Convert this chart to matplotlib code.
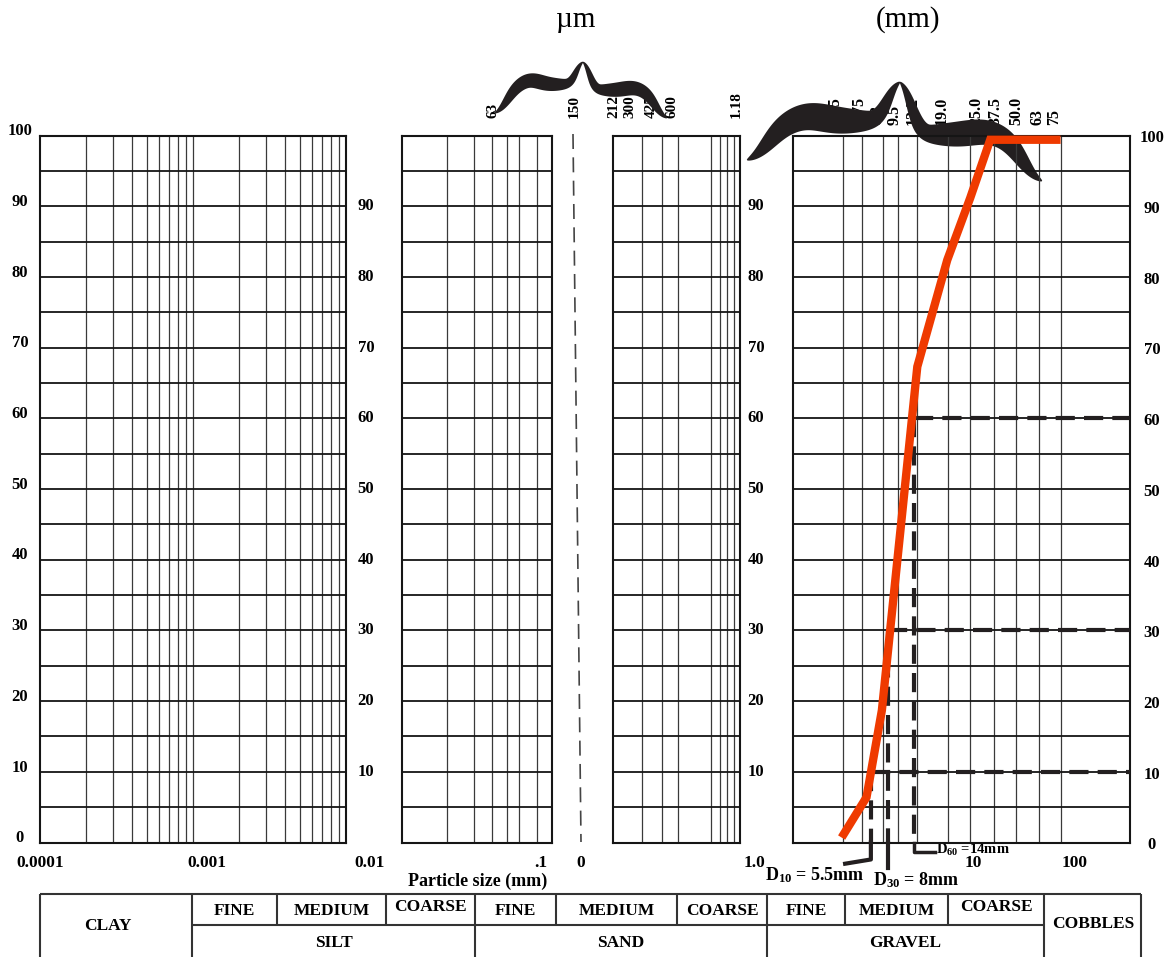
"""
Curva granulométrica (% passante x tamanho da partícula) com as faixas
de argila, silte, areia, pedregulho e pedras, e as marcas D10, D30 e D60.
"""

import numpy as np
import matplotlib.pyplot as plt
from matplotlib.patches import Polygon
from matplotlib.ticker import NullLocator
from matplotlib.transforms import blended_transform_factory

plt.rcParams["font.family"] = ["Liberation Serif", "DejaVu Serif"]
plt.rcParams["font.weight"] = "bold"
plt.rcParams["mathtext.fontset"] = "custom"
plt.rcParams["mathtext.rm"] = "Liberation Serif:bold"
plt.rcParams["mathtext.it"] = "Liberation Serif:bold"
plt.rcParams["mathtext.bf"] = "Liberation Serif:bold"

# ---- dados -------------------------------------------------------------
pct_grid = list(range(5, 100, 5))
left_pct_labels = list(range(0, 101, 10))
inner_pct_labels = list(range(10, 100, 10))

p1_lim = (0.0001, 0.01)
p1_grid = [0.0002, 0.0003, 0.0004, 0.0005, 0.0006, 0.0007, 0.0008, 0.0009,
           0.001, 0.002, 0.003, 0.004, 0.005, 0.006, 0.007, 0.008, 0.009]
p2_lim = (0.01, 0.1)
p2_grid = [0.02, 0.03, 0.04, 0.05, 0.06, 0.08]
p3_lim = (0.2, 1.2)
p3_grid = [0.3, 0.4, 0.5, 0.8, 0.9, 1.0, 1.1]
p4_lim = (1.0, 1600.0)
p4_grid = [3, 4.5, 7.2, 10, 15, 30, 48, 82, 133, 220, 350]

# curva do material (mm, % passante)
sizes_mm = [2.9, 5.0, 7.0, 15.2, 29.3, 48.5, 75.0, 350.0]
passing = [0.7, 6.4, 18.7, 67.3, 82.4, 91.2, 99.4, 99.4]

d_values = [5.5, 8.0, 14.0]
d_levels = [10, 30, 60]
d_texts = ["D$_{10}$ = 5.5mm", "D$_{30}$ = 8mm", "D$_{60}$ =14mm"]

um_sieves = ["63", "150", "212", "300", "425", "600", "1.18"]
mm_sieves = ["3.35", "4.75", "6.3", "9.5", "13.2", "19.0", "25.0", "37.5",
             "50.0", "63", "75"]
size_labels = ["0.0001", "0.001", "0.01", ".1", "0", "1.0", "10", "100"]

sub_classes = ["FINE", "MEDIUM", "COARSE"] * 3
main_classes = ["SILT", "SAND", "GRAVEL"]

# ---- layout (pixels da imagem) ------------------------------------------
W, H = 1170, 957
TOP, BOT = 135.5, 842.5
panel_x = [(40, 346), (402, 552), (613, 740), (793, 1130)]
um_x = [493, 574, 614, 630, 651, 672, 736]
mm_x = [835, 860, 878, 895, 913, 942, 976, 995, 1016, 1037, 1054]
size_label_x = [40, 207, 370, 541, 581, 754, 973, 1075]
table_cols = [40, 192, 277, 386, 475, 556, 677, 767, 845, 948, 1044, 1141]
main_cols = [40, 192, 475, 767, 1044, 1141]
T_TOP, T_MID, T_BOT = 894, 925, 962

INK = "#231f20"
GRID = "#3a3a3a"
ORANGE = "#ef3a00"

fig = plt.figure(figsize=(W / 100, H / 100), dpi=100)

# eixo de sobreposição em pixels (desenhado primeiro, embaixo dos painéis)
ov = fig.add_axes([0, 0, 1, 1])
ov.set_xlim(0, W)
ov.set_ylim(H, 0)
ov.axis("off")


def add_panel(x0, x1, lim, grid):
    ax = fig.add_axes([x0 / W, 1 - BOT / H, (x1 - x0) / W, (BOT - TOP) / H])
    ax.set_facecolor("none")
    ax.set_xscale("log")
    for g in grid:
        ax.axvline(g, color=GRID, lw=0.9, zorder=1)
    for p in pct_grid:
        ax.axhline(p, color="#151515", lw=1.3, zorder=1.5)
    ax.set_xlim(lim)
    ax.set_ylim(0, 100)
    for axis in (ax.xaxis, ax.yaxis):
        axis.set_major_locator(NullLocator())
        axis.set_minor_locator(NullLocator())
    for s in ax.spines.values():
        s.set_linewidth(1.5)
        s.set_color("#151515")
    return ax


ax1 = add_panel(*panel_x[0], p1_lim, p1_grid)
ax2 = add_panel(*panel_x[1], p2_lim, p2_grid)
ax3 = add_panel(*panel_x[2], p3_lim, p3_grid)
ax4 = add_panel(*panel_x[3], p4_lim, p4_grid)

# curva granulométrica
ax4.plot(sizes_mm, passing, color=ORANGE, lw=6, solid_capstyle="butt",
         solid_joinstyle="miter", zorder=5, clip_on=False)

# linhas de D10, D30, D60
dash = (0, (4.6, 2.2))
for d, lev in zip(d_values, d_levels):
    ax4.plot([d, p4_lim[1]], [lev, lev], color=INK, lw=3, ls=dash, zorder=4)
    ax4.plot([d, d], [lev, 0], color=INK, lw=3, ls=dash, zorder=4)
# chamadas abaixo do eixo
ax4.plot([5.5, 5.5, 3.13], [0, -2.4, -3.0], color=INK, lw=3, clip_on=False, zorder=4)
ax4.plot([8.0, 8.0], [0, -3.6], color=INK, lw=3, clip_on=False, zorder=4)
ax4.plot([14.0, 14.0, 22.5], [0, -1.4, -1.4], color=INK, lw=2.5, clip_on=False, zorder=4)

ov.text(765, 875, d_texts[0], fontsize=13, ha="left", va="center")
ov.text(873, 880, d_texts[1], fontsize=13, ha="left", va="center")
ov.text(936, 850, d_texts[2], fontsize=10.5, ha="left", va="center")

# rótulos de % passante
for ax, xp, labels, dy in [(ax1, 20, left_pct_labels, 0.6),
                           (ax1, 366, inner_pct_labels, 0),
                           (ax3, 756, inner_pct_labels, 0),
                           (ax4, 1152, left_pct_labels, -0.4)]:
    tr = blended_transform_factory(ov.transData, ax.transData)
    for p in labels:
        ov.text(xp, p + dy, str(p), transform=tr, fontsize=12,
                ha="center", va="center")

# rótulos de tamanho embaixo
for x, s in zip(size_label_x, size_labels):
    ov.text(x, 863, s, fontsize=12.5, ha="center", va="center")
ov.text(478, 881, "Particle size (mm)", fontsize=13, ha="center", va="center")

# peneiras (rotacionadas)
for x, s in zip(um_x, um_sieves):
    ov.text(x, 118, s, rotation=90, fontsize=11, ha="center", va="bottom", zorder=1)
for x, s in zip(mm_x, mm_sieves):
    ov.text(x, 125, s, rotation=90, fontsize=11.5, ha="center", va="bottom", zorder=1)

ov.text(576, 20, "\u00b5m", fontsize=21, fontweight="normal", ha="center", va="center")
ov.text(908, 20, "(mm)", fontsize=21, fontweight="normal", ha="center", va="center")

# linha tracejada entre os painéis (150 µm)
ov.plot([573, 581], [134, 842], color="#444444", lw=1.2, ls=(0, (9, 5)))


def brace_half(tip, cusp, plateau, width, bump=0.0, rise=0.14, soft=0.065):
    """Metade de uma chave: da ponta fina até o bico central."""
    t = np.linspace(0, 1, 240)
    sig = lambda z: 1 / (1 + np.exp(-z))
    g = (plateau * sig((t - rise) / soft)
         + (1 - plateau) * sig((t - 0.92) / 0.035)
         + bump * np.exp(-((t - 0.4) / 0.16) ** 2))
    g = (g - g[0]) / (g[-1] - g[0])
    x = tip[0] + (cusp[0] - tip[0]) * t
    y = tip[1] + (cusp[1] - tip[1]) * g
    dx, dy = np.gradient(x), np.gradient(y)
    n = np.hypot(dx, dy)
    nx, ny = -dy / n, dx / n
    w = 0.5 * (width * np.sin(np.pi * t) ** 0.75 + 0.8)
    upper = np.column_stack([x + nx * w, y + ny * w])
    lower = np.column_stack([x - nx * w, y - ny * w])
    return np.vstack([upper, lower[::-1]])


braces = [
    ((495, 113), (583, 62), 0.56, 14, 0.08),
    ((667, 118), (583, 62), 0.50, 14, 0.04),
    ((747, 160), (900, 82), 0.50, 27, 0.06),
    ((1042, 181), (900, 82), 0.47, 25, 0.03),
]
for tip, cusp, plateau, width, bump in braces:
    ov.add_patch(Polygon(brace_half(tip, cusp, plateau, width, bump), closed=True,
                         fc=INK, ec="none", zorder=3))

# tabela de classificação
tk = dict(color="#333333", lw=1.5, solid_capstyle="butt")
ov.plot([table_cols[0], table_cols[-1]], [T_TOP, T_TOP], **tk)
ov.plot([main_cols[1], main_cols[-2]], [T_MID, T_MID], **tk)
for x in table_cols:
    bottom = T_BOT if x in main_cols else T_MID
    ov.plot([x, x], [T_TOP, bottom], **tk)

for i, s in enumerate(sub_classes):
    xc = (table_cols[i + 1] + table_cols[i + 2]) / 2
    yc = 907 if s == "COARSE" and i != 5 else 911
    ov.text(xc, yc, s, fontsize=12.5, ha="center", va="center")
for i, s in enumerate(main_classes):
    xc = (main_cols[i + 1] + main_cols[i + 2]) / 2
    ov.text(xc, 943, s, fontsize=12.5, ha="center", va="center")
ov.text(108, 926, "CLAY", fontsize=12.5, ha="center", va="center")
ov.text(1093, 924, "COBBLES", fontsize=12.5, ha="center", va="center")

fig.savefig("out.png", dpi=100)
plt.close(fig)
